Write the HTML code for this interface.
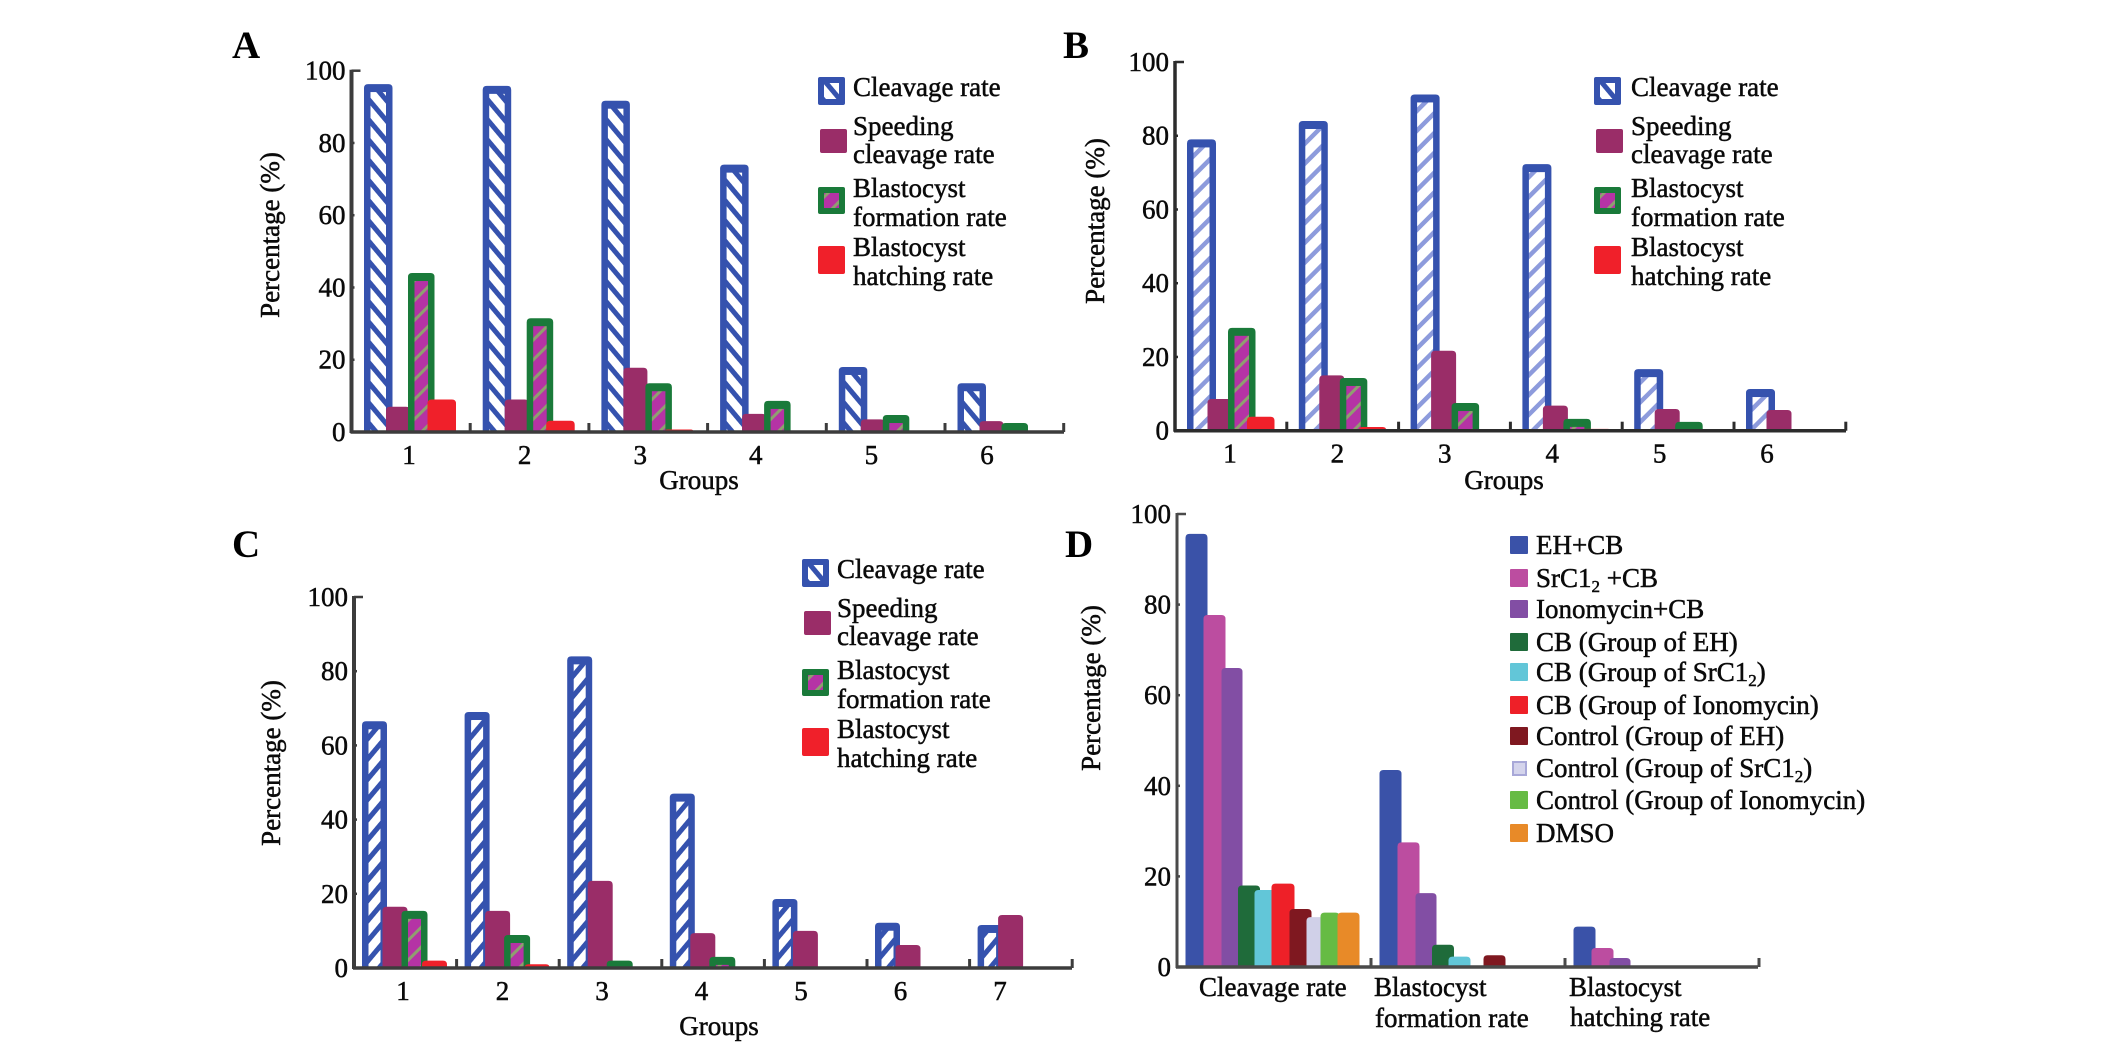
<!DOCTYPE html>
<html lang="en">
<head>
<meta charset="utf-8">
<title>Cleavage and blastocyst rates</title>
<style>
html,body{margin:0;padding:0;background:#fff;}
svg{display:block;}
text{font-family:"Liberation Serif",serif;font-size:27px;fill:#0a0a0a;stroke:#0a0a0a;stroke-width:.5px;}
.letter{font-size:39px;font-weight:bold;stroke:none;fill:#000;}
</style>
</head>
<body>
<svg id="figure" width="2126" height="1056" viewBox="0 0 2126 1056" xmlns="http://www.w3.org/2000/svg">
  <defs>
    <pattern id="hatch-back" patternUnits="userSpaceOnUse" width="13" height="13" patternTransform="rotate(50)">
      <rect width="13" height="13" fill="#ffffff"/><rect width="13" height="5" fill="#3552ae"/>
    </pattern>
    <pattern id="hatch-fwd" patternUnits="userSpaceOnUse" width="13" height="13" patternTransform="rotate(-50)">
      <rect width="13" height="13" fill="#ffffff"/><rect width="13" height="5" fill="#3552ae"/>
    </pattern>
    <pattern id="hatch-pale" patternUnits="userSpaceOnUse" width="14" height="14" patternTransform="rotate(-45)">
      <rect width="14" height="14" fill="#ffffff"/><rect width="14" height="4.5" fill="#8d9bdc"/>
    </pattern>
    <pattern id="hatch-magenta" patternUnits="userSpaceOnUse" width="14" height="14" patternTransform="rotate(-45)">
      <rect width="14" height="14" fill="#b533a5"/><rect width="14" height="3" fill="#8f9f70"/>
    </pattern>
  </defs>

  <rect width="2126" height="1056" fill="#ffffff"/>

  <text class="letter" x="232" y="58">A</text>
  <text class="letter" x="1063" y="58">B</text>
  <text class="letter" x="232" y="557">C</text>
  <text class="letter" x="1065" y="557">D</text>

  <g id="panel-a"></g>
  <g id="panel-b"></g>
  <g id="panel-c"></g>
  <g id="panel-d"></g>

  <g transform="translate(16,-482)">
    <g><rect x="802" y="559" width="27" height="28" rx="2" fill="#3552ae"/><rect x="808" y="565" width="15" height="16" fill="url(#hatch-back)"/><text x="837" y="578">Cleavage rate</text></g>
    <g><rect x="804" y="611" width="27" height="24" rx="2" fill="#9a2d68"/><text x="837" y="617">Speeding</text><text x="837" y="645">cleavage rate</text></g>
    <g><rect x="802" y="669" width="27" height="27" rx="2" fill="#1a7a3a"/><rect x="808" y="675" width="15" height="15" fill="url(#hatch-magenta)"/><text x="837" y="679">Blastocyst</text><text x="837" y="708">formation rate</text></g>
    <g><rect x="802" y="728" width="27" height="28" rx="2" fill="#f0202a"/><text x="837" y="738">Blastocyst</text><text x="837" y="767">hatching rate</text></g>
  </g>
  <g transform="translate(792,-482)">
    <g><rect x="802" y="559" width="27" height="28" rx="2" fill="#3552ae"/><rect x="808" y="565" width="15" height="16" fill="url(#hatch-back)"/><text x="839" y="578">Cleavage rate</text></g>
    <g><rect x="804" y="611" width="27" height="24" rx="2" fill="#9a2d68"/><text x="839" y="617">Speeding</text><text x="839" y="645">cleavage rate</text></g>
    <g><rect x="802" y="669" width="27" height="27" rx="2" fill="#1a7a3a"/><rect x="808" y="675" width="15" height="15" fill="url(#hatch-magenta)"/><text x="839" y="679">Blastocyst</text><text x="839" y="708">formation rate</text></g>
    <g><rect x="802" y="728" width="27" height="28" rx="2" fill="#f0202a"/><text x="839" y="738">Blastocyst</text><text x="839" y="767">hatching rate</text></g>
  </g>
  <g>
    <g><rect x="802" y="559" width="27" height="28" rx="2" fill="#3552ae"/><rect x="808" y="565" width="15" height="16" fill="url(#hatch-back)"/><text x="837" y="578">Cleavage rate</text></g>
    <g><rect x="804" y="611" width="27" height="24" rx="2" fill="#9a2d68"/><text x="837" y="617">Speeding</text><text x="837" y="645">cleavage rate</text></g>
    <g><rect x="802" y="669" width="27" height="27" rx="2" fill="#1a7a3a"/><rect x="808" y="675" width="15" height="15" fill="url(#hatch-magenta)"/><text x="837" y="679">Blastocyst</text><text x="837" y="708">formation rate</text></g>
    <g><rect x="802" y="728" width="27" height="28" rx="2" fill="#f0202a"/><text x="837" y="738">Blastocyst</text><text x="837" y="767">hatching rate</text></g>
  </g>

  <g>
    <g><rect x="1510" y="536" width="18" height="18" rx="1" fill="#3a52a8"/><text x="1536" y="554">EH+CB</text></g>
    <g><rect x="1510" y="569" width="18" height="18" rx="1" fill="#bc4da0"/><text x="1536" y="587">SrC1<tspan dy="5" font-size="17">2</tspan><tspan dy="-5"> +CB</tspan></text></g>
    <g><rect x="1510" y="600" width="18" height="18" rx="1" fill="#824ea4"/><text x="1536" y="618">Ionomycin+CB</text></g>
    <g><rect x="1510" y="633" width="18" height="18" rx="1" fill="#1f6b3a"/><text x="1536" y="651">CB (Group of EH)</text></g>
    <g><rect x="1510" y="663" width="18" height="18" rx="1" fill="#62c6d8"/><text x="1536" y="681">CB (Group of SrC1<tspan dy="5" font-size="17">2</tspan><tspan dy="-5">)</tspan></text></g>
    <g><rect x="1510" y="696" width="18" height="18" rx="1" fill="#ee2028"/><text x="1536" y="714">CB (Group of Ionomycin)</text></g>
    <g><rect x="1510" y="727" width="18" height="18" rx="1" fill="#7f1820"/><text x="1536" y="745">Control (Group of EH)</text></g>
    <g><rect x="1513" y="762" width="13" height="13" fill="#d4d4ec" stroke="#a8a8d8" stroke-width="2"/><text x="1536" y="777">Control (Group of SrC1<tspan dy="5" font-size="17">2</tspan><tspan dy="-5">)</tspan></text></g>
    <g><rect x="1510" y="791" width="18" height="18" rx="1" fill="#66bb44"/><text x="1536" y="809">Control (Group of Ionomycin)</text></g>
    <g><rect x="1510" y="824" width="18" height="18" rx="1" fill="#e88a28"/><text x="1536" y="842">DMSO</text></g>
  </g>

  <g>
    <text x="1199" y="996">Cleavage rate</text>
    <g><text x="1374" y="996">Blastocyst</text><text x="1375" y="1027">formation rate</text></g>
    <g><text x="1569" y="996">Blastocyst</text><text x="1570" y="1026">hatching rate</text></g>
  </g>

<script>
// ---- Values ----
const yTickLabels = [0, 20, 40, 60, 80, 100];

const groupsA = ['1', '2', '3', '4', '5', '6'];
const cleavageA = [96.3, 95.8, 91.7, 74, 18, 13.5];
const speedingA = [7, 9, 17.8, 5, 3.5, 3];
const formationA = [44, 31.5, 13.5, 8.6, 4.7, 2.5];
const hatchingA = [9, 3.1, 0.7, 0, 0.3, 0];

const groupsB = ['1', '2', '3', '4', '5', '6'];
const cleavageB = [79, 84, 91.2, 72.3, 16.7, 11.3];
const speedingB = [8.6, 15, 21.7, 6.8, 5.9, 5.6];
const formationB = [27.9, 14.3, 7.5, 3.2, 2.4, 0];
const hatchingB = [3.8, 1, 0, 0.5, 0, 0];

const groupsC = ['1', '2', '3', '4', '5', '6', '7'];
const cleavageC = [66.5, 69, 84, 47, 18.6, 12.2, 11.6];
const speedingC = [16.5, 15.4, 23.5, 9.4, 10, 6.2, 14.3];
const formationC = [15.4, 8.9, 2, 3, 0, 0, 0];
const hatchingC = [2, 1, 0, 0, 0, 0, 0];

const categoriesD = ['Cleavage rate', 'Blastocyst formation rate', 'Blastocyst hatching rate'];
const ehCb = [95.6, 43.5, 8.9];
const srcl2Cb = [77.7, 27.5, 4.2];
const ionomycinCb = [66, 16.3, 2];
const cbEh = [18, 4.9, 0];
const cbSrcl2 = [17, 2.3, 0];
const cbIonomycin = [18.4, 0, 0];
const controlEh = [12.8, 2.6, 0];
const controlSrcl2 = [11, 0, 0];
const controlIonomycin = [12, 0, 0];
const dmso = [12, 0, 0];

// ---- Drawing ----
const SVG_NS = 'http://www.w3.org/2000/svg';

function make(parent, tag, attrs) {
  const el = document.createElementNS(SVG_NS, tag);
  for (const key in attrs) el.setAttribute(key, attrs[key]);
  parent.appendChild(el);
  return el;
}

function topRounded(x, w, yTop, yBase, r) {
  const rr = Math.min(r, Math.max(yBase - yTop, 0), w / 2);
  return 'M' + x + ' ' + yBase + 'V' + (yTop + rr) + 'Q' + x + ' ' + yTop + ' ' + (x + rr) + ' ' + yTop +
    'H' + (x + w - rr) + 'Q' + (x + w) + ' ' + yTop + ' ' + (x + w) + ' ' + (yTop + rr) + 'V' + yBase + 'Z';
}

function drawBar(parent, seriesName, x, w, yTop, yBase, style) {
  const outer = make(parent, 'path', { d: topRounded(x, w, yTop, yBase, 4), fill: style.color });
  
  
  if (style.hatch) {
    const b = 6.5;
    const top = 8;
    const innerH = Math.max(yBase - yTop - top, 0);
    const inner = make(parent, 'rect', { x: x + b, y: yBase - innerH, width: w - 2 * b, height: innerH, fill: style.hatch });
    
    
  }
}

function drawPanel(panelId, layout, categories, seriesList) {
  const root = document.getElementById(panelId);
  const yScale = function (v) { return layout.y0 + (layout.y100 - layout.y0) * v / 100; };
  const xTick = function (i) { return layout.x0 + i * layout.step; };
  const xBar = function (i, offset) { return xTick(i) + layout.barStart + offset; };

  const bars = make(root, 'g', {});
  
  
  seriesList.forEach(function (series) {
    series.values.forEach(function (value, i) {
      drawBar(bars, series.name, xBar(i, series.offset), series.width, yScale(value), layout.y0, series);
    });
  });

  const axisColor = layout.axisColor;
  const yAxis = make(root, 'line', { x1: layout.x0, x2: layout.x0, y1: layout.y100 - 1, y2: layout.y0 + 1, stroke: axisColor, 'stroke-width': layout.yAxisWidth });
  
  
  const xAxis = make(root, 'line', { x1: layout.x0 - 1, x2: layout.xEnd, y1: layout.y0, y2: layout.y0, stroke: axisColor, 'stroke-width': 3.5 });
  
  

  yTickLabels.forEach(function (v) {
    const len = v === 100 ? 9 : 3;
    const tick = make(root, 'line', { x1: layout.x0, x2: layout.x0 + len, y1: yScale(v), y2: yScale(v), stroke: axisColor, 'stroke-width': 2.5 });
    
    
    const label = make(root, 'text', { x: layout.x0 - 6, y: yScale(v) + 9, 'text-anchor': 'end' });
    label.textContent = String(v);
    
    
  });

  categories.forEach(function (cat, i) {
    const tick = make(root, 'line', { x1: xTick(i + 1), x2: xTick(i + 1), y1: layout.y0, y2: layout.y0 - 9, stroke: axisColor, 'stroke-width': 3 });
    
    
    if (layout.labelStep) {
      const label = make(root, 'text', { x: layout.label0 + i * layout.labelStep, y: layout.y0 + 32, 'text-anchor': 'middle' });
      label.textContent = cat;
      
      
    }
  });

  const yTitle = make(root, 'text', { transform: 'translate(' + layout.titleX + ',' + layout.titleY + ') rotate(-90)', 'text-anchor': 'middle' });
  yTitle.textContent = 'Percentage (%)';
  
  

  if (layout.groupsX) {
    const xTitle = make(root, 'text', { x: layout.groupsX, y: layout.groupsY, 'text-anchor': 'middle' });
    xTitle.textContent = 'Groups';
    
    
  }
}

const MAROON = '#9a2d68', GREEN = '#1a7a3a', RED = '#f0202a', BLUE = '#3552ae';

drawPanel('panel-a',
  { x0: 351.5, xEnd: 1064, step: 118.7, y0: 432, y100: 70.7, barStart: 12.5, label0: 409, labelStep: 115.6,
    axisColor: '#3c3c3c', yAxisWidth: 4, titleX: 279, titleY: 235, groupsX: 699, groupsY: 489 },
  groupsA,
  [
    { name: 'cleavage', values: cleavageA, offset: 0, width: 28.5, color: BLUE, hatch: 'url(#hatch-back)' },
    { name: 'speeding', values: speedingA, offset: 22, width: 24, color: MAROON },
    { name: 'formation', values: formationA, offset: 44, width: 26.5, color: GREEN, hatch: 'url(#hatch-magenta)' },
    { name: 'hatching', values: hatchingA, offset: 63.5, width: 28.5, color: RED }
  ]);

drawPanel('panel-b',
  { x0: 1175, xEnd: 1846, step: 111.8, y0: 430.7, y100: 62, barStart: 12, label0: 1230, labelStep: 107.4,
    axisColor: '#2c2c2c', yAxisWidth: 3.5, titleX: 1104, titleY: 221, groupsX: 1504, groupsY: 489 },
  groupsB,
  [
    { name: 'cleavage', values: cleavageB, offset: 0, width: 29, color: BLUE, hatch: 'url(#hatch-pale)' },
    { name: 'speeding', values: speedingB, offset: 20.5, width: 25, color: MAROON },
    { name: 'formation', values: formationB, offset: 41, width: 27.5, color: GREEN, hatch: 'url(#hatch-magenta)' },
    { name: 'hatching', values: hatchingB, offset: 60, width: 27.5, color: RED }
  ]);

drawPanel('panel-c',
  { x0: 354, xEnd: 1072, step: 102.6, y0: 968, y100: 597, barStart: 8, label0: 403, labelStep: 99.5,
    axisColor: '#3c3c3c', yAxisWidth: 4, titleX: 280, titleY: 763, groupsX: 719, groupsY: 1035 },
  groupsC,
  [
    { name: 'cleavage', values: cleavageC, offset: 0, width: 25, color: BLUE, hatch: 'url(#hatch-fwd)' },
    { name: 'speeding', values: speedingC, offset: 20.5, width: 25, color: MAROON },
    { name: 'formation', values: formationC, offset: 39.5, width: 26, color: GREEN, hatch: 'url(#hatch-magenta)' },
    { name: 'hatching', values: hatchingC, offset: 60, width: 25, color: RED }
  ]);

drawPanel('panel-d',
  { x0: 1177, xEnd: 1758, step: 194, y0: 967, y100: 514, barStart: 8.5,
    axisColor: '#4a4a4a', yAxisWidth: 3, titleX: 1100, titleY: 688 },
  categoriesD,
  [
    { name: 'eh-cb', values: ehCb, offset: 0, width: 22, color: '#3a52a8' },
    { name: 'srcl2-cb', values: srcl2Cb, offset: 18, width: 22, color: '#bc4da0' },
    { name: 'ionomycin-cb', values: ionomycinCb, offset: 36, width: 21, color: '#824ea4' },
    { name: 'cb-eh', values: cbEh, offset: 52.5, width: 22, color: '#1f6b3a' },
    { name: 'cb-srcl2', values: cbSrcl2, offset: 69, width: 22, color: '#62c6d8' },
    { name: 'cb-ionomycin', values: cbIonomycin, offset: 86, width: 23, color: '#ee2028' },
    { name: 'control-eh', values: controlEh, offset: 104, width: 22, color: '#7f1820' },
    { name: 'control-srcl2', values: controlSrcl2, offset: 121, width: 17, color: '#d0d0e8' },
    { name: 'control-ionomycin', values: controlIonomycin, offset: 135, width: 19, color: '#66bb44' },
    { name: 'dmso', values: dmso, offset: 152, width: 22, color: '#e88a28' }
  ]);
</script>
</svg>
</body>
</html>
